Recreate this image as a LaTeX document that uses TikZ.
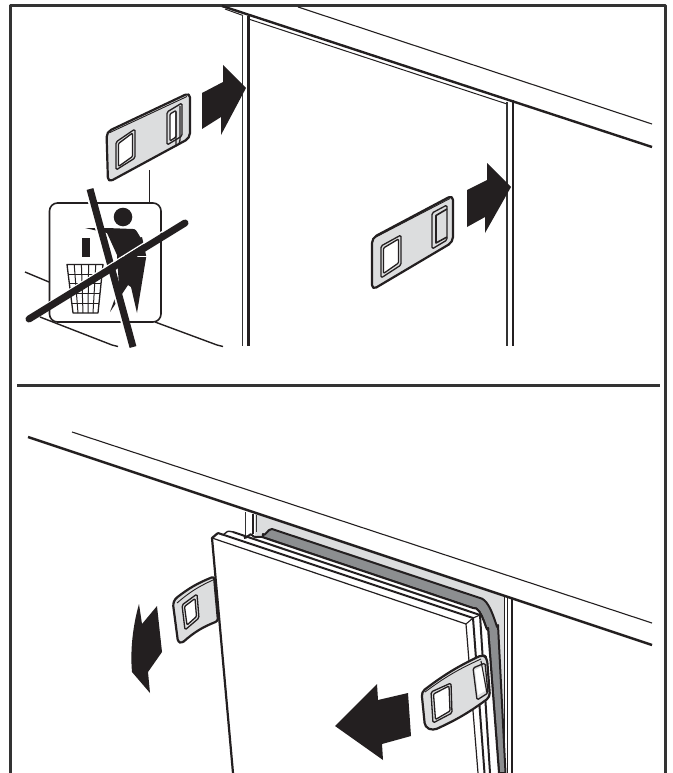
\documentclass[tikz,border=0pt]{standalone}
\begin{document}
\begin{tikzpicture}[x=1pt,y=-1pt,line join=round,
  ink/.style={draw=inkc,line width=#1},ink/.default=1.2,
  clipbody/.style={fill=clipg,draw=inkc,line width=2.2,rounded corners=5pt},
  holeout/.style={draw=inkc,line width=1.3,fill=clipg,rounded corners=1.5pt},
  holein/.style={draw=inkc,line width=1.3,fill=white,rounded corners=1pt}]
\definecolor{inkc}{HTML}{231F20}
\definecolor{clipg}{HTML}{DCDDDE}
\definecolor{gask}{HTML}{8C8E90}
\definecolor{frameg}{HTML}{333333}
\useasboundingbox (0,0) rectangle (672,773);
\fill[white] (0,0) rectangle (672,773);
% frame
\draw[frameg,line width=3] (10.5,773)--(10.5,5.5)--(665.5,5.5)--(665.5,773);
\draw[frameg,line width=3] (17,385)--(660,385);
% ---- upper scene ----
\draw[ink=1.1] (298,7)--(652,124);
\draw[ink=2.4] (222,6)--(652,147);
\draw[ink=1] (225,9)--(243,15.5) (250,19.5)--(507,104);
\draw[draw=frameg,line width=1.4] (242.3,15)--(242.3,346);
\draw[ink=2.4] (248.3,16)--(248.3,346);
\draw[draw=frameg,line width=1.4] (507,102)--(507,346);
\draw[ink=2.4] (513,100)--(513,346);
% arrows
\fill[inkc] (202,93)--(223,82)--(223,65)--(246,88)--(221,135)--(221,117)--(202,129)--cycle;
\fill[inkc] (467,190)--(487,180)--(487,163)--(511,187)--(485,233)--(485,217)--(467,227)--cycle;
% clip 1
\draw[clipbody] (106.5,132)--(190,92.5)--(190,138)--(108,182.5)--cycle;
\draw[ink=0.9] (110,132.5)--(187,96.5);
\draw[holeout] (116,142)--(135,129)--(135,158)--(116,170)--cycle;
\draw[holein] (118.5,143.5)--(132.5,133)--(132.5,156.5)--(118.5,166.5)--cycle;
\draw[holeout] (167,112)--(182,103)--(182,136)--(167,145)--cycle;
\draw[holein] (170,114)--(176,110.5)--(176,137)--(170,141)--cycle;
\draw[ink=1.3] (176,146)--(176,112) (180,106)--(180,140) (176,146) to[bend right=40] (180,140);
% clip 2
\draw[clipbody] (372,238)--(453,195)--(453,242)--(372,290)--cycle;
\draw[ink=0.9] (375,237.5)--(450,198.5);
\draw[holeout] (381,246)--(401,235)--(401,265)--(381,278)--cycle;
\draw[holein] (383.5,248)--(398.5,239)--(398.5,263)--(383.5,273.5)--cycle;
\draw[holeout] (432,213)--(447,205)--(447,240)--(432,249)--cycle;
\draw[ink=1.6] (447,209)--(436,215.5)--(436,243)--(447,237);
% sign
\draw[ink=1.4] (149.5,170)--(149.5,203);
\draw[ink=1.4] (25,272)--(49,282);
\draw[ink=1.4] (40,317)--(112,345) to[bend left=8] (118,346.5);
\draw[ink=1.4] (155,322)--(217,345) to[bend left=8] (223,346.5);
\draw[ink=1.6,fill=white,rounded corners=8pt] (49.5,203) rectangle (161,322);
% person
\fill[inkc] (123,217) circle (9.3);
\fill[inkc] (85,228)--(107,228)--(133,229) to[out=10,in=-110] (142,237)--(146,255)--(146,258)--(137,313)--(131,287)--(128,285)--(110,312)--(119,287)--(117,255)--(107,233)--cycle;
\draw[white,line width=1.1] (122,256.5)--(147,256.5);
\fill[inkc] (82,238) rectangle (90,257);
% basket
\draw[ink=1.3] (67,264.5)--(103,264.5)--(98,313)--(73,313)--cycle;
\foreach \t in {0.2,0.4,0.6,0.8}{
  \draw[ink=1] ({67+36*\t},264.5)--({73+25*\t},313);}
\foreach \t in {0.2,0.4,0.6,0.8}{
  \draw[ink=1] ({67+6*\t},{264.5+48.5*\t})--({103-5*\t},{264.5+48.5*\t});}
% prohibition bars
\draw[white,line width=7] (88,189)--(131,347);
\draw[ink=7] (90,189)--(133,347);
\draw[white,line width=1.3] (184,218)--(27,316);
\draw[ink=7,line cap=round] (185,223)--(29,319);
% ---- lower scene ----
\draw[ink=1.1] (72,432)--(652,623);
% light strip and seal surround
\fill[clipg] (255,513)--(504.5,596.5)--(504.5,773)--(300,773)--(255,550)--cycle;
\draw[draw=frameg,line width=1] (245.5,512)--(245.5,536);
\draw[ink=2] (252.5,514)--(252.5,534);
\draw[draw=frameg,line width=0.9] (256,515)--(256,532);
\draw[ink=1.1] (504.5,596.5)--(504.5,773);
\draw[ink=1.1] (507.5,597.5)--(507.5,773);
\draw[ink=2.4] (512,599)--(512,773);
\draw[ink=2.4] (28,437)--(652,645);
% gasket
\draw[ink=2,fill=gask] (262,545)--(263,534) to[out=-70,in=170] (272,529)--(480,598) to[out=-10,in=-90] (498,625)--(505.5,773)--(499,773)--(488,628) to[out=-95,in=15] (473,608)--(262,537)--cycle;
% left strap
\draw[ink=2.2,fill=clipg,rounded corners=2.5pt] (214,576.5) to[bend right=8] (175,599)--(173,604)--(178,642)--(182,643) to[bend left=10] (218,621)--cycle;
\draw[ink=0.9] (213,580) to[bend right=8] (177,603);
\draw[holeout] (182,605)--(197,594)--(199,618)--(185,630)--cycle;
\draw[holein] (184.5,606.5)--(195,598.5)--(196.5,616.5)--(187,625)--cycle;
% door layers
\fill[white] (212,538)--(218,533)--(223,535)--(228,531)--(233,532)--(250,537)--(262,537)--(473,608) to[out=15,in=-95] (488,628)--(499,773)--(233,773)--cycle;
\draw[ink=2] (244,538) to[out=-10,in=120] (252,535) to[out=-60,in=170] (262,537);
\draw[ink=2] (262,537)--(473,608) to[out=15,in=-95] (488,628)--(499,773);
\draw[ink=2] (233,532)--(480,615)--(490,773);
\draw[ink=2] (218,533)--(473,618)--(484.5,773);
\draw[ink=1.4,rounded corners=1pt] (218,533)--(223,535)--(228,531)--(233,532);
\draw[ink=1.1] (473,618)--(480,615);
\draw[ink=1.1] (466,624)--(473,618);
\draw[ink=1.2] (212,538)--(466,624)--(478,773);
\draw[ink=2.2] (233,773)--(212,538)--(218,533);
% right strap
\draw[ink=2.2,fill=clipg,rounded corners=4pt] (421.5,692) to[bend left=6] (483,654.5)--(487,658)--(490,697) to[bend left=6] (433,730.5)--(425,727)--cycle;
\draw[ink=0.9] (425,692) to[bend left=6] (481,659);
\draw[holeout] (431,692)--(451,683)--(452,713)--(433,723)--cycle;
\draw[holein] (433.5,694)--(449,686)--(450,711)--(435.5,719.5)--cycle;
\draw[holeout] (473,668)--(485,663)--(488,693)--(477,700)--cycle;
\fill[white] (475,670)--(483,666)--(485,691)--(478,695)--cycle;
\draw[ink=1.1] (481,661)--(487,693);
% arrows
\fill[inkc] (408,693)--(378,700)--(377,684)--(335,726)--(383,760)--(382,744)--(411,736)--cycle;
\fill[inkc] (139,604)--(142,624)--(157,606)--(162,652)--(148,672)--(150,693)--(132,672) .. controls (130,650) and (133,625) .. (139,604)--cycle;
\end{tikzpicture}
\end{document}
